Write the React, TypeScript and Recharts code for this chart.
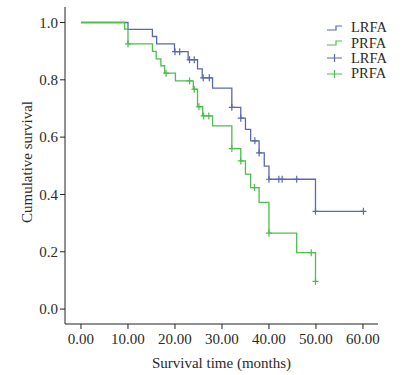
import React from "react";
import {
  ComposedChart,
  Line,
  Scatter,
  XAxis,
  YAxis,
  Label,
} from "recharts";

// Kaplan-Meier steps (time in months, cumulative survival)
const lrfaTime = [0, 10.0, 15.2, 16.1, 19.9, 22.8, 24.8, 25.8, 28.0, 32.1, 34.0, 35.0, 36.1, 37.9, 39.0, 40.0, 49.9, 60.1];
const lrfaSurv = [1, 0.976, 0.951, 0.925, 0.898, 0.87, 0.838, 0.807, 0.771, 0.704, 0.666, 0.627, 0.587, 0.545, 0.499, 0.453, 0.341, 0.341];
const lrfaCensor = [20.0, 21.0, 23.1, 24.1, 26.0, 27.3, 32.1, 34.0, 37.0, 37.9, 40.0, 42.1, 42.8, 45.9, 49.9, 60.1];

const prfaTime = [0, 9.3, 10.0, 15.2, 16.0, 17.0, 17.8, 20.1, 23.9, 24.8, 25.9, 28.0, 32.1, 34.0, 35.0, 36.1, 37.9, 40.0, 45.9, 49.9];
const prfaSurv = [1, 0.977, 0.925, 0.899, 0.873, 0.849, 0.823, 0.796, 0.767, 0.706, 0.674, 0.639, 0.56, 0.517, 0.471, 0.424, 0.372, 0.265, 0.197, 0.097];
const prfaCensor = [10.0, 18.1, 23.1, 24.1, 25.1, 26.1, 27.2, 32.1, 34.0, 36.9, 40.0, 49.0, 49.9];

const xTicks = [0, 10, 20, 30, 40, 50, 60];
const yTicks = [0, 0.2, 0.4, 0.6, 0.8, 1.0];

const BLUE = "#5a68b0";
const GREEN = "#4cbf4c";
const FONT = "'Liberation Serif', 'Times New Roman', serif";
const TEXT = "#2a2a2a";

const toSteps = (times: number[], surv: number[]) =>
  times.map((t, i) => ({ t, s: surv[i] }));

const survAt = (times: number[], surv: number[], t: number) => {
  let v = surv[0];
  for (let i = 0; i < times.length; i++) if (times[i] <= t + 1e-9) v = surv[i];
  return v;
};

const toCensor = (times: number[], surv: number[], cens: number[]) =>
  cens.map((t) => ({ t, s: survAt(times, surv, t) }));

const lrfaSteps = toSteps(lrfaTime, lrfaSurv);
const prfaSteps = toSteps(prfaTime, prfaSurv);
const lrfaMarks = toCensor(lrfaTime, lrfaSurv, lrfaCensor);
const prfaMarks = toCensor(prfaTime, prfaSurv, prfaCensor);

const cross = (color: string) => (props: any) => {
  const { cx, cy } = props;
  return (
    <path
      d={`M${cx - 3},${cy}H${cx + 3}M${cx},${cy - 3.5}V${cy + 3.5}`}
      stroke={color}
      strokeWidth={1.2}
      fill="none"
    />
  );
};

const legendRows = [
  { name: "LRFA", color: BLUE, kind: "step" },
  { name: "PRFA", color: GREEN, kind: "step" },
  { name: "LRFA", color: BLUE, kind: "cross" },
  { name: "PRFA", color: GREEN, kind: "cross" },
];

const LegendBox = () => (
  <div
    style={{
      position: "absolute",
      top: 20,
      left: 325,
      width: 90,
      fontFamily: FONT,
      fontSize: 14.5,
      color: TEXT,
    }}
  >
    {legendRows.map((r, i) => (
      <div key={i} style={{ display: "flex", alignItems: "center", height: 15.4 }}>
        <svg width={20} height={12} style={{ marginRight: 6 }}>
          {r.kind === "step" ? (
            <path d="M2,8H11V4H17" stroke={r.color} strokeWidth={1.2} fill="none" />
          ) : (
            <path d="M2,6H17M9.5,2V10" stroke={r.color} strokeWidth={1.2} fill="none" />
          )}
        </svg>
        <span>{r.name}</span>
      </div>
    ))}
  </div>
);

const tickStyle = { fill: TEXT, fontSize: 15, fontFamily: FONT };

export default function App() {
  return (
    <div style={{ position: "absolute", left: 0, top: 0, width: 415, height: 375, background: "#fff" }}>
      <ComposedChart
        width={415}
        height={375}
        margin={{ top: 7, right: 37, bottom: 0, left: 0 }}
      >
        <XAxis
          type="number"
          dataKey="t"
          domain={[-3.4, 63.2]}
          ticks={xTicks}
          interval={0}
          tickFormatter={(v: number) => v.toFixed(2)}
          tick={tickStyle}
          tickSize={5}
          tickMargin={4}
          height={51}
          stroke="#222"
          allowDuplicatedCategory={false}
        >
          <Label
            content={() => (
              <text x={221.5} y={368} textAnchor="middle" fill={TEXT} fontFamily={FONT} fontSize={15}>
                Survival time (months)
              </text>
            )}
          />
        </XAxis>
        <YAxis
          type="number"
          dataKey="s"
          domain={[-0.052, 1.054]}
          ticks={yTicks}
          interval={0}
          tickFormatter={(v: number) => v.toFixed(1)}
          tick={tickStyle}
          tickSize={5}
          tickMargin={2}
          width={65}
          stroke="#222"
        >
          <Label
            content={() => (
              <text
                x={32}
                y={162}
                transform="rotate(-90 32 162)"
                textAnchor="middle"
                fill={TEXT}
                fontFamily={FONT}
                fontSize={15}
              >
                Cumulative survival
              </text>
            )}
          />
        </YAxis>
        <Line
          data={lrfaSteps}
          dataKey="s"
          type="stepAfter"
          stroke={BLUE}
          strokeWidth={1.3}
          dot={false}
          activeDot={false}
          isAnimationActive={false}
          name="LRFA"
        />
        <Line
          data={prfaSteps}
          dataKey="s"
          type="stepAfter"
          stroke={GREEN}
          strokeWidth={1.3}
          dot={false}
          activeDot={false}
          isAnimationActive={false}
          name="PRFA"
        />
        <Scatter data={lrfaMarks} dataKey="s" shape={cross(BLUE)} isAnimationActive={false} name="LRFA" />
        <Scatter data={prfaMarks} dataKey="s" shape={cross(GREEN)} isAnimationActive={false} name="PRFA" />
      </ComposedChart>
      <LegendBox />
    </div>
  );
}
